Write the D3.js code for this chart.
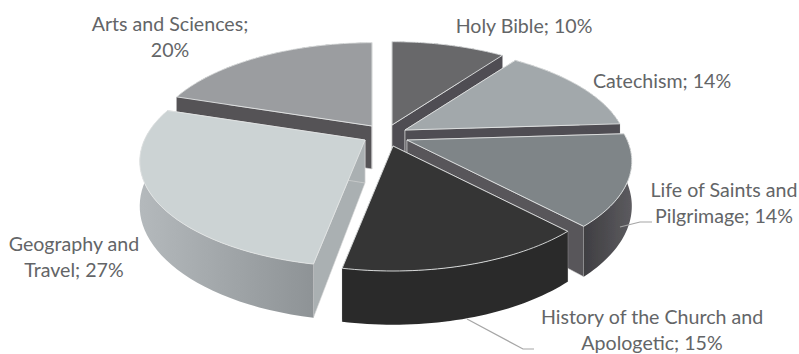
<!DOCTYPE html>
<html><head><meta charset="utf-8">
<script src="https://cdnjs.cloudflare.com/ajax/libs/d3/7.8.5/d3.min.js"></script>
<style>html,body{margin:0;padding:0;background:#fff}svg{display:block}</style></head>
<body><svg id="c" width="799" height="354"></svg>
<script>
const categories = ["Holy Bible","Catechism","Life of Saints and Pilgrimage","History of the Church and Apologetic","Geography and Travel","Arts and Sciences"];
const shares = [10,14,14,15,27,20];

const topColors = ["#68686b","#a2a8ab","#7f8588","#363636","#ccd3d4","#9b9da0"];
const wallColors = ["#4f4d52","#4f4d52","#4e4d51","#2a2a2a","#a0a5a8","#545256"];
const sideColors = ["#4f4d52","#4f4d52","#58565a","#2a2a2a","#aab0b2","#545256"];
const apexes = [[392,125],[405,130],[407,140],[393,146],[365,140],[372,126]];
const radii = [1,1,1.01,1,1.012,1];
const paintOrder = [0,1,5,2,4,3];
const labels = [
 {lines:["Holy Bible; 10%"],x:524,y:33},
 {lines:["Catechism; 14%"],x:662,y:88},
 {lines:["Life of Saints and","Pilgrimage; 14%"],x:724,y:197},
 {lines:["History of the Church and","Apologetic; 15%"],x:652,y:324},
 {lines:["Geography and","Travel; 27%"],x:74,y:251},
 {lines:["Arts and Sciences;","20%"],x:170,y:31}
];
const leaders = [
 [[620,227],[640,222],[652,222]],
 [[467,319],[523,349],[534,349]]
];

const rx = d3.scaleLinear([0,1],[0,218]);
const ry = d3.scaleLinear([0,1],[0,100]);
const persp = 0.2, depth = 43;
const svg = d3.select("#c");
const defs = svg.append("defs");
const pie = d3.pie().sort(null).value(d=>d)(shares);
const line = d3.line();

defs.append("filter").attr("id","soft").attr("x","-5%").attr("y","-5%").attr("width","110%").attr("height","110%")
  .append("feGaussianBlur").attr("stdDeviation",0.45);

const proj=(a,r,o,z=0)=>{
  const c=Math.cos(a), s=Math.sin(a), k=1/(1+persp*c*r);
  return [o[0]+rx(r*s)*k, o[1]-ry(r*c)*k+z*depth*k];
};
const arcPts=(d,o,z,m)=>d3.range(0,41).map(i=>proj(d.startAngle+(d.endAngle-d.startAngle)*i/40,m,o,z));

const wallGrad=defs.append("linearGradient").attr("id","geoWall").attr("x1",0).attr("x2",1).attr("y1",0).attr("y2",0);
wallGrad.append("stop").attr("offset",0).attr("stop-color","#b4b9bc");
wallGrad.append("stop").attr("offset",1).attr("stop-color","#8e9396");
const lifeGrad=defs.append("linearGradient").attr("id","lifeWall").attr("x1",0).attr("x2",1).attr("y1",0).attr("y2",0);
lifeGrad.append("stop").attr("offset",0).attr("stop-color","#3f3e42");
lifeGrad.append("stop").attr("offset",1).attr("stop-color","#5c5b5f");

const g=svg.append("g").attr("filter","url(#soft)");
paintOrder.forEach(i=>{
  const d=pie[i], o=apexes[i], m=radii[i];
  const top=arcPts(d,o,0,m), low=arcPts(d,o,1,m);
  const a0=proj(0,0,o,0), a1=proj(0,0,o,1);
  g.append("path").attr("d",line([a0,top[0],low[0],a1])+"Z").attr("fill",sideColors[i]).attr("stroke","#d9d9d9").attr("stroke-width",.6);
  g.append("path").attr("d",line([a0,top[40],low[40],a1])+"Z").attr("fill",sideColors[i]).attr("stroke","#d9d9d9").attr("stroke-width",.6);
  const fill = i===4?"url(#geoWall)":i===2?"url(#lifeWall)":wallColors[i];
  g.append("path").attr("d",line(top.concat(low.slice().reverse()))+"Z").attr("fill",fill);
  g.append("path").attr("d",line([a0].concat(top))+"Z").attr("fill",topColors[i]).attr("stroke","#e2e4e4").attr("stroke-width",.9).attr("stroke-linejoin","round");
});

svg.append("g").selectAll("path").data(leaders).join("path")
  .attr("d",d=>line(d)).attr("fill","none").attr("stroke","#a6a6a6").attr("stroke-width",1.2);

const t=svg.append("g").attr("font-family","Lato, sans-serif").attr("font-size",19.6).attr("fill","#636567").attr("text-anchor","middle");
labels.forEach(l=>l.lines.forEach((s,j)=>t.append("text").attr("x",l.x).attr("y",l.y+j*26).text(s)));
</script></body></html>
